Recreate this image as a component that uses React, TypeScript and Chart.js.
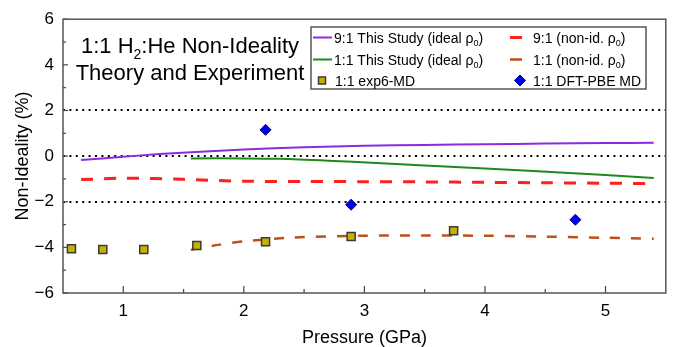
import React, { useEffect, useRef } from "react";
import { Chart, registerables } from "chart.js";
Chart.register(...registerables);

const FONT = "'Liberation Sans', Arial, Helvetica, sans-serif";

// Axis ticks and reference lines
const xTicks = [1, 2, 3, 4, 5];
const xMinorTicks = [1.5, 2.5, 3.5, 4.5];
const yTicks = [-6, -4, -2, 0, 2, 4, 6];
const yMinorTicks = [-5, -3, -1, 1, 3, 5];
const refLines = [2, 0, -2];

// 9:1 This Study (ideal rho0)
const ideal91X = [0.65, 1.0, 1.3, 1.6, 2.0, 2.5, 3.0, 3.5, 4.0, 4.5, 5.0, 5.4];
const ideal91Y = [-0.17, -0.03, 0.09, 0.18, 0.29, 0.39, 0.45, 0.49, 0.52, 0.55, 0.57, 0.58];

// 1:1 This Study (ideal rho0)
const ideal11X = [1.56, 2.0, 2.3, 2.7, 3.1, 3.5, 4.0, 4.4, 5.0, 5.4];
const ideal11Y = [-0.1, -0.1, -0.12, -0.2, -0.3, -0.41, -0.54, -0.65, -0.83, -0.96];

// 9:1 (non-id. rho0)
const nonid91X = [0.65, 1.0, 1.5, 2.0, 2.5, 3.0, 3.5, 4.0, 4.5, 5.0, 5.4];
const nonid91Y = [-1.03, -0.97, -1.02, -1.1, -1.11, -1.12, -1.13, -1.15, -1.17, -1.19, -1.2];

// 1:1 (non-id. rho0)
const nonid11X = [1.56, 1.8, 2.0, 2.4, 3.0, 3.5, 4.0, 4.5, 5.0, 5.4];
const nonid11Y = [-4.11, -3.88, -3.74, -3.57, -3.49, -3.48, -3.49, -3.53, -3.58, -3.62];

// 1:1 exp6-MD
const exp6X = [0.57, 0.83, 1.17, 1.61, 2.18, 2.89, 3.74];
const exp6Y = [-4.06, -4.09, -4.09, -3.92, -3.75, -3.52, -3.27];

// 1:1 DFT-PBE MD
const dftX = [2.18, 2.89, 4.75];
const dftY = [1.15, -2.13, -2.79];

const titleLines = ["1:1 H₂:He Non-Ideality", "Theory and Experiment"];

const zip = (xs: number[], ys: number[]) => xs.map((x, i) => ({ x, y: ys[i] }));

const SUB: Record<string, string> = { "₀": "0", "₁": "1", "₂": "2" };
type Seg = { t: string; sub: boolean };
function segs(s: string): Seg[] {
  const out: Seg[] = [];
  let cur = "";
  for (const ch of s) {
    if (SUB[ch]) {
      if (cur) out.push({ t: cur, sub: false });
      cur = "";
      out.push({ t: SUB[ch], sub: true });
    } else cur += ch;
  }
  if (cur) out.push({ t: cur, sub: false });
  return out;
}
function richWidth(ctx: CanvasRenderingContext2D, s: string, size: number) {
  let w = 0;
  for (const sg of segs(s)) {
    ctx.font = `${sg.sub ? Math.round(size * 0.65) : size}px ${FONT}`;
    w += ctx.measureText(sg.t).width;
  }
  return w;
}
function drawRich(ctx: CanvasRenderingContext2D, s: string, x: number, y: number, size: number) {
  ctx.textBaseline = "alphabetic";
  ctx.textAlign = "left";
  let cx = x;
  for (const sg of segs(s)) {
    ctx.font = `${sg.sub ? Math.round(size * 0.65) : size}px ${FONT}`;
    ctx.fillText(sg.t, cx, sg.sub ? y + size * 0.25 : y);
    cx += ctx.measureText(sg.t).width;
  }
}

const decor = {
  id: "decor",
  beforeDatasetsDraw(chart: any) {
    const { ctx, chartArea: a, scales } = chart;
    const ys = scales.y;
    ctx.save();
    ctx.strokeStyle = "#000";
    ctx.lineWidth = 2;
    ctx.setLineDash([2, 4.4]);
    for (const v of refLines) {
      const py = Math.round(ys.getPixelForValue(v));
      ctx.beginPath();
      ctx.moveTo(a.left, py);
      ctx.lineTo(a.right, py);
      ctx.stroke();
    }
    ctx.restore();
  },
  afterDatasetsDraw(chart: any) {
    const { ctx, chartArea: a, scales } = chart;
    const xs = scales.x;
    const ys = scales.y;
    ctx.save();
    // ticks
    ctx.strokeStyle = "#444";
    ctx.lineWidth = 1.2;
    ctx.setLineDash([]);
    const tick = (x1: number, y1: number, x2: number, y2: number) => {
      ctx.beginPath();
      ctx.moveTo(x1, y1);
      ctx.lineTo(x2, y2);
      ctx.stroke();
    };
    for (const v of xTicks) { const p = xs.getPixelForValue(v); tick(p, a.bottom, p, a.bottom - 7); }
    for (const v of xMinorTicks) { const p = xs.getPixelForValue(v); tick(p, a.bottom, p, a.bottom - 4); }
    for (const v of yTicks) { const p = ys.getPixelForValue(v); tick(a.left, p, a.left + 5, p); }
    for (const v of yMinorTicks) { const p = ys.getPixelForValue(v); tick(a.left, p, a.left + 3, p); }
    // frame
    ctx.strokeStyle = "#555";
    ctx.lineWidth = 1.5;
    ctx.strokeRect(a.left, a.top, a.right - a.left, a.bottom - a.top);

    // title
    ctx.fillStyle = "#000";
    const tcx = 190;
    const tSize = 22;
    titleLines.forEach((ln, i) => {
      const w = richWidth(ctx, ln, tSize);
      drawRich(ctx, ln, tcx - w / 2, 53 + i * 26.5, tSize);
    });

    // legend
    const bx1 = 311, by1 = 27, bx2 = 646, by2 = 89;
    ctx.fillStyle = "#fff";
    ctx.fillRect(bx1, by1, bx2 - bx1, by2 - by1);
    ctx.strokeStyle = "#555";
    ctx.lineWidth = 1.5;
    ctx.strokeRect(bx1, by1, bx2 - bx1, by2 - by1);
    const ds = chart.data.datasets;
    const rowsY = [37.5, 59.5, 80.5];
    const lSize = 14;
    const drawEntry = (d: any, col: number, row: number) => {
      const cy = rowsY[row];
      ctx.save();
      if (d.showLine) {
        ctx.strokeStyle = d.borderColor;
        ctx.lineWidth = d.borderWidth;
        ctx.setLineDash([]);
        ctx.beginPath();
        if (col === 0) { ctx.moveTo(313, cy); ctx.lineTo(332, cy); }
        else { ctx.moveTo(510, cy); ctx.lineTo(522, cy); }
        ctx.stroke();
      } else {
        ctx.fillStyle = d.backgroundColor;
        ctx.strokeStyle = d.borderColor;
        ctx.lineWidth = d.borderWidth;
        const mx = col === 0 ? 322 : 520;
        const r = d.legendSize;
        ctx.beginPath();
        if (d.pointStyle === "rect") {
          ctx.rect(mx - r, cy - r, 2 * r, 2 * r);
        } else {
          ctx.moveTo(mx, cy - r); ctx.lineTo(mx + r, cy); ctx.lineTo(mx, cy + r); ctx.lineTo(mx - r, cy); ctx.closePath();
        }
        ctx.fill();
        ctx.stroke();
      }
      ctx.restore();
      ctx.fillStyle = "#000";
      const tx = col === 0 ? (d.showLine ? 334 : 335) : 533;
      drawRich(ctx, d.label, tx, cy + 5, lSize);
    };
    drawEntry(ds[0], 0, 0);
    drawEntry(ds[2], 1, 0);
    drawEntry(ds[1], 0, 1);
    drawEntry(ds[3], 1, 1);
    drawEntry(ds[4], 0, 2);
    drawEntry(ds[5], 1, 2);
    ctx.restore();
  },
};

export default function App() {
  const ref = useRef<HTMLCanvasElement>(null);
  useEffect(() => {
    document.body.style.margin = "0";
    const canvas = ref.current!;
    const lineBase = { showLine: true, pointRadius: 0, pointHoverRadius: 0, fill: false, tension: 0.3, order: 1 };
    const chart = new Chart(canvas, {
      type: "scatter",
      data: {
        datasets: [
          { ...lineBase, label: "9:1 This Study (ideal ρ₀)", data: zip(ideal91X, ideal91Y), borderColor: "#8a2be2", borderWidth: 2 },
          { ...lineBase, label: "1:1 This Study (ideal ρ₀)", data: zip(ideal11X, ideal11Y), borderColor: "#1e8a1e", borderWidth: 2 },
          { ...lineBase, label: "9:1 (non-id. ρ₀)", data: zip(nonid91X, nonid91Y), borderColor: "#ff1f1f", borderWidth: 3, borderDash: [12, 11] },
          { ...lineBase, label: "1:1 (non-id. ρ₀)", data: zip(nonid11X, nonid11Y), borderColor: "#c0501a", borderWidth: 2.5, borderDash: [10, 11] },
          { label: "1:1 exp6-MD", data: zip(exp6X, exp6Y), showLine: false, pointStyle: "rect", pointRadius: 5.7, backgroundColor: "#c8b200", borderColor: "#3a3a3a", borderWidth: 1.5, order: 0, legendSize: 3.5 } as any,
          { label: "1:1 DFT-PBE MD", data: zip(dftX, dftY), showLine: false, pointStyle: "rectRot", pointRadius: 5.5, backgroundColor: "#0000f0", borderColor: "#00007a", borderWidth: 1, order: 0, legendSize: 5.5 } as any,
        ],
      },
      options: {
        animation: false,
        responsive: true,
        maintainAspectRatio: false,
        layout: { padding: { top: 16, right: 7, left: 0, bottom: 0 } },
        plugins: { legend: { display: false }, tooltip: { enabled: false }, title: { display: false } },
        scales: {
          x: {
            type: "linear",
            min: 0.5,
            max: 5.5,
            afterBuildTicks: (s: any) => { s.ticks = xTicks.map((v) => ({ value: v })); },
            afterFit: (s: any) => { s.height = 54; },
            grid: { display: false, drawTicks: false },
            border: { display: false },
            ticks: { color: "#000", font: { family: FONT, size: 17 }, padding: 8 },
            title: { display: true, text: "Pressure (GPa)", color: "#000", font: { family: FONT, size: 18 }, padding: { top: 0, bottom: -2 } },
          },
          y: {
            type: "linear",
            min: -6,
            max: 6,
            afterBuildTicks: (s: any) => { s.ticks = yTicks.map((v) => ({ value: v })); },
            afterFit: (s: any) => { s.width = 63; },
            grid: { display: false, drawTicks: false },
            border: { display: false },
            ticks: { color: "#000", font: { family: FONT, size: 17 }, padding: 9, callback: (v: any) => String(v).replace("-", "−") },
            title: { display: true, text: "Non-Ideality (%)", color: "#000", font: { family: FONT, size: 18 }, padding: { top: 12, bottom: 0 } },
          },
        },
      },
      plugins: [decor],
    });
    return () => chart.destroy();
  }, []);
  return (
    <div style={{ position: "relative", width: 673, height: 347 }}>
      <canvas ref={ref} />
    </div>
  );
}
